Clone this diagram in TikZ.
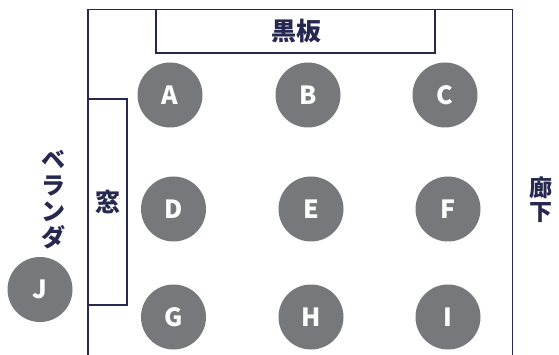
\documentclass[tikz,border=0pt]{standalone}
\usepackage{fontspec}
\newfontfamily\jpfont{Noto Sans CJK JP}
\definecolor{navy}{HTML}{262850}
\definecolor{seat}{HTML}{77787B}
\begin{document}
\begin{tikzpicture}[x=1pt,y=-1pt,
  wall/.style={draw=navy,line width=1.3pt},
  seatnode/.style={circle,fill=seat,minimum size=65pt,inner sep=0pt,text=white,font=\jpfont\bfseries\fontsize{25}{25}\selectfont},
  jlabel/.style={text=navy,inner sep=0pt,align=center,font=\jpfont\bfseries\fontsize{25}{25}\selectfont}]
\useasboundingbox (0,0) rectangle (559,355);
% walls
\coordinate (wl) at (88,355);
\coordinate (wtl) at (88,9.5);
\coordinate (wtr) at (512.5,9.5);
\coordinate (wr) at (512.5,355);
\draw[wall] (wl) -- (wtl) -- (wtr) -- (wr);
% blackboard
\node[wall,minimum width=279pt,minimum height=43.5pt,inner sep=0pt] (board) at (295.5,31.25) {};
\node[jlabel] (boardtxt) at (296,31) {黒板};
% window
\node[wall,minimum width=39pt,minimum height=206pt,inner sep=0pt] (window) at (107.5,202) {};
\node[jlabel] (windowtxt) at (108,202) {窓};
% seats
\node[seatnode] (A) at (170,95) {A};
\node[seatnode] (B) at (308,95) {B};
\node[seatnode] (C) at (445,95) {C};
\node[seatnode] (D) at (173.5,209) {D};
\node[seatnode] (E) at (311,209) {E};
\node[seatnode] (F) at (448,209) {F};
\node[seatnode] (G) at (173.5,317) {G};
\node[seatnode] (H) at (311,317) {H};
\node[seatnode] (I) at (448,317) {I};
\node[seatnode] (J) at (40,289.5) {J};
% side labels
\node[jlabel,font=\jpfont\bfseries\fontsize{24}{26}\selectfont] (veranda) at (53,199.5) {ベ\\ラ\\ン\\ダ};
\node[jlabel,font=\jpfont\bfseries\fontsize{23}{24}\selectfont] (corridor) at (541,200) {廊\\下};
\end{tikzpicture}
\end{document}
